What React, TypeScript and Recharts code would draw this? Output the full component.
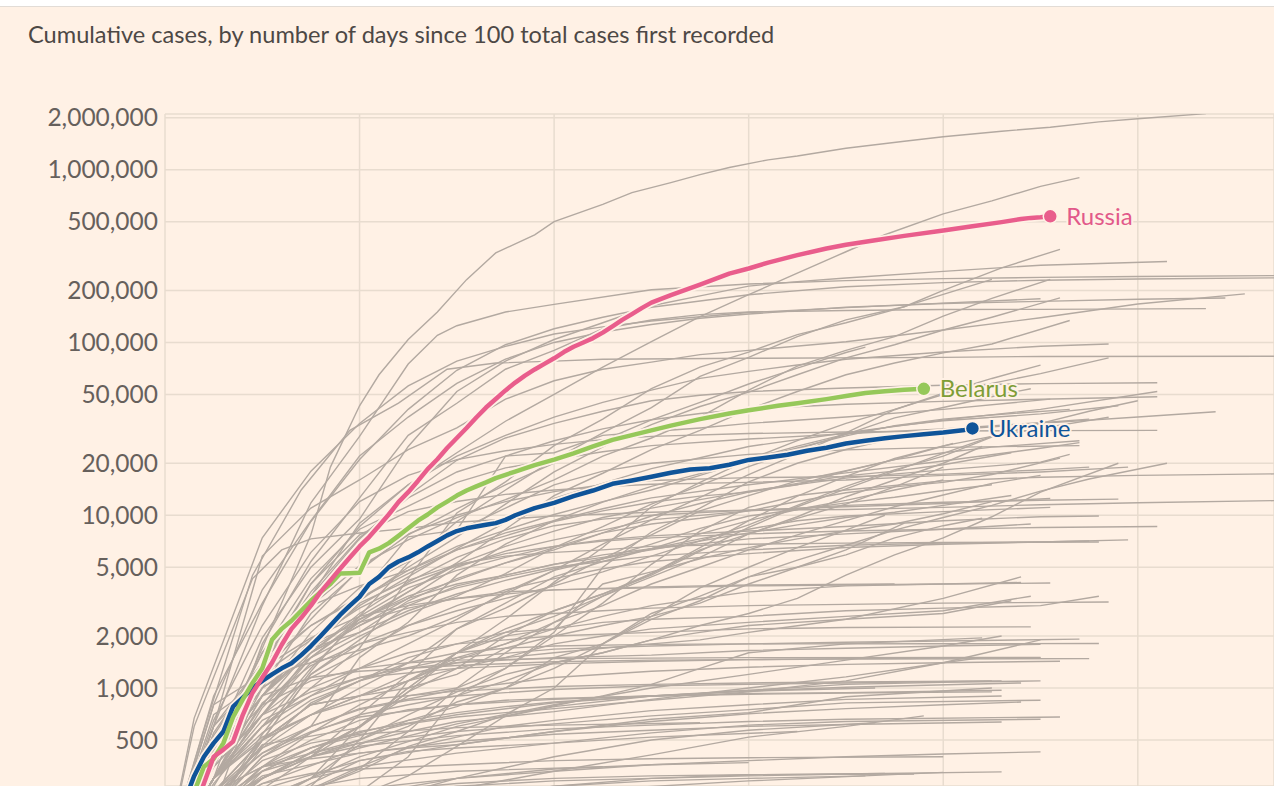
import { CartesianGrid, Line, LineChart, XAxis, YAxis } from "recharts";

type Pt = [number, number];

const BG = "#fff1e5";
const GREY = "#b3a9a1";

const dayTicks = [20, 40, 60, 80, 100];
const caseTicks = [500, 1000, 2000, 5000, 10000, 20000, 50000, 100000, 200000, 500000, 1000000, 2000000];

// highlighted countries (cumulative cases by day since the 100th case)
const russia: Pt[] = [
  [0, 100], [2, 150], [3, 200], [4, 280], [5, 400], [6, 440], [7, 490], [8, 700], [9, 940], [10, 1150],
  [11, 1400], [12, 1780], [13, 2200], [14, 2550], [15, 3000], [16, 3600], [17, 4200], [18, 4900], [19, 5700],
  [20, 6600], [21, 7500], [22, 8700], [23, 10100], [24, 11900], [25, 13600], [26, 15800], [27, 18500],
  [28, 21100], [29, 24500], [30, 28000], [31, 32000], [32, 36800], [33, 42000], [34, 47100], [35, 52800],
  [36, 58600], [37, 64300], [38, 69800], [39, 75200], [40, 81000], [41, 88000], [42, 94500], [43, 100000],
  [44, 106000], [45, 114000], [46, 124000], [47, 135000], [48, 146000], [49, 158000], [50, 170000],
  [52, 188000], [55, 216000], [58, 250000], [60, 268000], [62, 290000], [65, 320000], [68, 350000],
  [70, 368000], [73, 390000], [76, 414000], [80, 445000], [83, 470000], [86, 497000], [88, 518000],
  [89, 526000], [90, 530000], [91, 537000],
];

const belarus: Pt[] = [
  [0, 100], [1, 140], [2, 180], [3, 250], [4, 350], [5, 390], [6, 480], [7, 680], [8, 860], [9, 1070],
  [10, 1300], [11, 1900], [12, 2200], [13, 2450], [14, 2800], [15, 3200], [16, 3600], [17, 4000], [18, 4600],
  [19, 4620], [20, 4640], [21, 6100], [22, 6400], [23, 6900], [24, 7600], [25, 8400], [26, 9300], [27, 10100],
  [28, 11100], [29, 12000], [30, 13000], [31, 13900], [32, 14700], [33, 15500], [34, 16400], [36, 17900],
  [38, 19500], [40, 21000], [42, 22800], [44, 25000], [46, 27300], [48, 29100], [50, 31000], [52, 33000],
  [55, 36000], [58, 38800], [60, 40500], [63, 43000], [65, 44500], [68, 47000], [70, 49000], [72, 51000],
  [74, 52200], [76, 53300], [78, 53900],
];

const ukraine: Pt[] = [
  [0, 100], [1, 140], [2, 220], [3, 310], [4, 400], [5, 480], [6, 560], [7, 780], [8, 880], [9, 1000],
  [10, 1100], [11, 1200], [12, 1300], [13, 1390], [14, 1550], [15, 1750], [16, 2000], [17, 2300], [18, 2650],
  [19, 3000], [20, 3370], [21, 4000], [22, 4400], [23, 5000], [24, 5400], [25, 5700], [26, 6100], [27, 6600],
  [28, 7100], [29, 7650], [30, 8100], [31, 8400], [32, 8600], [33, 8800], [34, 9000], [35, 9400], [36, 10000],
  [38, 11000], [40, 11800], [42, 12900], [44, 13900], [46, 15200], [48, 15900], [50, 16700], [52, 17600],
  [54, 18400], [56, 18700], [58, 19600], [60, 20900], [62, 21600], [64, 22400], [66, 23600], [68, 24600],
  [70, 26000], [72, 27000], [74, 27900], [76, 28700], [78, 29400], [80, 30100], [82, 31000], [83, 31800],
];

// everyone else, drawn in grey
const usa: Pt[] = [[0, 100], [5, 400], [10, 1700], [15, 7700], [17, 19000], [20, 43000], [22, 65000], [25, 104000], [28, 150000], [31, 231000], [34, 330000], [38, 420000], [40, 500000], [45, 630000], [48, 736000], [52, 841000], [55, 936000], [58, 1030000], [62, 1140000], [65, 1200000], [70, 1330000], [76, 1460000], [80, 1550000], [86, 1670000], [91, 1760000], [96, 1890000], [100, 1970000], [107, 2110000]];
const brazil: Pt[] = [[0, 100], [5, 350], [10, 1200], [15, 3400], [20, 9000], [25, 15000], [30, 23000], [35, 35000], [40, 50000], [45, 72000], [50, 101000], [55, 141000], [60, 189000], [65, 252000], [70, 335000], [74, 420000], [80, 555000], [85, 660000], [90, 800000], [94, 900000]];
const india: Pt[] = [[0, 100], [5, 200], [10, 540], [15, 1250], [20, 2600], [25, 5300], [30, 9200], [35, 14000], [40, 21000], [45, 30000], [50, 42000], [55, 63600], [60, 82000], [65, 108000], [70, 135000], [76, 161000], [80, 200000], [86, 270000], [92, 346000]];
const uk: Pt[] = [[0, 100], [5, 460], [10, 1950], [15, 5000], [20, 9500], [25, 25000], [30, 52000], [35, 78000], [40, 104000], [45, 130000], [50, 163000], [55, 186000], [60, 212000], [65, 225000], [70, 236000], [80, 258000], [90, 280000], [103, 294000]];
const spain: Pt[] = [[0, 100], [5, 600], [10, 3000], [15, 11800], [20, 28600], [25, 75000], [28, 110000], [30, 125000], [35, 150000], [40, 166000], [50, 202000], [60, 218000], [70, 228000], [80, 234000], [90, 238000], [100, 241000], [116, 244000]];
const italy: Pt[] = [[0, 100], [5, 900], [10, 3100], [15, 9200], [20, 21000], [25, 41000], [30, 69000], [35, 97000], [40, 120000], [45, 140000], [50, 160000], [60, 189000], [70, 210000], [80, 222000], [90, 229000], [100, 233000], [116, 237000]];
const germany: Pt[] = [[0, 100], [5, 800], [10, 3700], [15, 9300], [20, 22000], [25, 37000], [30, 58000], [35, 80000], [40, 100000], [45, 115000], [50, 127000], [55, 138000], [60, 146000], [70, 160000], [80, 168000], [90, 173000], [100, 178000], [109, 181000]];
const iran: Pt[] = [[0, 100], [5, 600], [10, 5800], [15, 11000], [20, 16000], [25, 24000], [30, 32000], [35, 47000], [40, 60000], [45, 70000], [50, 77000], [55, 85000], [60, 90000], [70, 101000], [80, 118000], [90, 139000], [100, 167000], [111, 191000]];
const france: Pt[] = [[0, 100], [5, 300], [10, 1800], [15, 5400], [20, 12600], [25, 29000], [30, 44500], [35, 70000], [40, 90000], [45, 120000], [50, 135000], [55, 145000], [60, 150000], [70, 153000], [80, 155000], [90, 155500], [107, 157000]];
const turkey: Pt[] = [[0, 100], [3, 670], [6, 1870], [10, 7400], [15, 18000], [20, 34000], [25, 56000], [30, 78000], [35, 95000], [40, 112000], [45, 123000], [50, 133000], [60, 149000], [70, 159000], [80, 169000], [90, 179000]];
const peru: Pt[] = [[0, 100], [5, 300], [10, 600], [15, 1000], [20, 1700], [25, 4300], [30, 10300], [35, 15600], [40, 25300], [45, 36000], [50, 54000], [55, 72000], [60, 88000], [65, 111000], [70, 130000], [75, 155000], [80, 190000], [85, 232000]];
const chile: Pt[] = [[0, 100], [5, 430], [10, 1600], [15, 3000], [20, 5100], [25, 7200], [30, 9700], [35, 12300], [40, 16000], [45, 22000], [50, 28000], [55, 37000], [60, 53000], [65, 73000], [70, 90000], [75, 108000], [80, 142000], [85, 180000], [91, 232000]];
const mexico: Pt[] = [[0, 100], [5, 300], [10, 900], [15, 1900], [20, 3200], [25, 5000], [30, 7500], [35, 11600], [40, 17800], [45, 24900], [50, 33500], [55, 42600], [60, 51600], [65, 65000], [70, 81400], [75, 97000], [80, 118000], [85, 140000], [92, 181000]];
const saudi: Pt[] = [[0, 100], [5, 270], [10, 770], [15, 1500], [20, 2400], [25, 3600], [30, 5300], [35, 8300], [40, 13000], [45, 17500], [50, 24000], [55, 31000], [60, 41000], [65, 52000], [70, 65000], [75, 76000], [80, 87000], [85, 98000], [93, 134000]];
const canada: Pt[] = [[0, 100], [5, 400], [10, 1400], [15, 4000], [20, 8600], [25, 15000], [30, 22000], [35, 29000], [40, 37000], [45, 45000], [50, 53000], [55, 62000], [60, 68000], [65, 74000], [70, 80000], [80, 88000], [90, 95000], [97, 98000]];
const china: Pt[] = [[0, 100], [4, 570], [9, 4500], [14, 14000], [19, 31000], [24, 44600], [29, 70000], [34, 76000], [40, 78000], [45, 80000], [60, 81000], [80, 82000], [90, 83000], [116, 83200]];
const qatar: Pt[] = [[0, 100], [10, 470], [20, 590], [25, 950], [30, 1600], [35, 2500], [40, 4100], [45, 6500], [50, 11200], [55, 15500], [60, 21000], [65, 27000], [70, 34000], [75, 41000], [80, 50000], [85, 58000], [90, 66000], [97, 81500]];
const southAfrica: Pt[] = [[0, 100], [5, 400], [10, 1170], [15, 1400], [20, 1650], [25, 2000], [30, 2600], [35, 3500], [40, 4800], [45, 6800], [50, 9400], [55, 12700], [60, 17200], [65, 22600], [70, 30000], [75, 40800], [80, 50900], [85, 61900], [90, 74000]];
const bangladesh: Pt[] = [[0, 100], [5, 200], [10, 1200], [15, 2500], [20, 4900], [25, 7700], [30, 10900], [35, 15000], [40, 20000], [45, 27000], [50, 35600], [55, 45000], [60, 57500], [65, 71000], [70, 87500], [72, 94000]];
const belgium: Pt[] = [[0, 100], [5, 400], [10, 1250], [15, 3400], [20, 7300], [25, 13000], [30, 20800], [35, 28000], [40, 34000], [45, 40000], [50, 46000], [55, 49500], [60, 52000], [70, 54500], [80, 56500], [90, 57800], [102, 58500]];
const sweden: Pt[] = [[0, 100], [5, 700], [10, 1100], [15, 1800], [20, 3000], [25, 4400], [30, 6400], [35, 9100], [40, 12500], [45, 15300], [50, 18600], [55, 21500], [60, 25000], [70, 30000], [80, 35500], [90, 41000], [102, 52000]];
const netherlands: Pt[] = [[0, 100], [5, 600], [10, 1400], [15, 3600], [20, 7400], [25, 12600], [30, 17800], [35, 22000], [40, 27000], [45, 31600], [50, 35700], [55, 38800], [60, 41300], [70, 43900], [80, 45600], [90, 46900], [102, 48500]];
const switzerland: Pt[] = [[0, 100], [5, 650], [10, 2300], [15, 6100], [20, 12000], [25, 17000], [30, 21000], [35, 23600], [40, 25700], [45, 27400], [50, 28600], [60, 29700], [70, 30300], [80, 30700], [90, 30900], [102, 31000]];
const singapore: Pt[] = [[0, 100], [10, 180], [20, 250], [25, 400], [30, 900], [35, 1300], [40, 2100], [45, 5000], [50, 8000], [55, 11000], [60, 15600], [65, 20000], [70, 24000], [75, 28000], [80, 31000], [90, 34000], [100, 37000], [108, 39700]];
const japan: Pt[] = [[0, 100], [10, 300], [20, 600], [25, 900], [30, 1000], [35, 1300], [40, 2000], [45, 3100], [50, 5200], [55, 8100], [60, 11100], [65, 13000], [70, 14000], [80, 15800], [90, 16600], [100, 17000], [116, 17400]];
const korea: Pt[] = [[0, 100], [3, 600], [6, 1600], [9, 4300], [12, 6300], [15, 7300], [20, 7900], [25, 8400], [30, 9100], [40, 9900], [50, 10400], [60, 10700], [70, 10800], [80, 11100], [90, 11500], [100, 11800], [116, 12200]];
const austria: Pt[] = [[0, 100], [5, 500], [10, 1300], [15, 4000], [20, 7700], [25, 10500], [30, 12000], [35, 13200], [40, 14000], [45, 14600], [50, 15100], [60, 15500], [70, 16000], [80, 17000], [90, 17800], [99, 19000]];
const portugal: Pt[] = [[0, 100], [5, 450], [10, 1600], [15, 4300], [20, 8300], [25, 11300], [30, 15500], [35, 18800], [40, 21000], [45, 23300], [50, 25300], [60, 27600], [70, 29600], [80, 31600], [90, 34300], [95, 36000]];
const israel: Pt[] = [[0, 100], [5, 300], [10, 1000], [15, 2700], [20, 4800], [25, 7800], [30, 10000], [35, 12000], [40, 13700], [45, 15000], [50, 15900], [60, 16500], [70, 16700], [80, 17300], [90, 18300], [95, 19000]];
const ireland: Pt[] = [[0, 100], [5, 400], [10, 900], [15, 2100], [20, 3800], [25, 5400], [30, 8100], [35, 11000], [40, 15000], [45, 18000], [50, 20000], [60, 22500], [70, 23900], [80, 24700], [94, 25300]];
const poland: Pt[] = [[0, 100], [5, 400], [10, 900], [15, 1900], [20, 3300], [25, 4600], [30, 6300], [35, 7900], [40, 9300], [45, 10900], [50, 12600], [60, 15000], [70, 17600], [80, 20600], [90, 24400], [94, 26300]];
const romania: Pt[] = [[0, 100], [5, 300], [10, 600], [15, 1300], [20, 2500], [25, 3600], [30, 5200], [35, 6600], [40, 8100], [45, 9700], [50, 11000], [60, 13800], [70, 16400], [80, 18300], [90, 20300], [93, 22500]];
const denmark: Pt[] = [[0, 100], [5, 800], [10, 1200], [15, 1600], [20, 2300], [25, 3300], [30, 5000], [35, 6200], [40, 7200], [45, 8200], [50, 9400], [60, 10600], [70, 11400], [80, 11900], [90, 12200], [98, 12400]];
const czechia: Pt[] = [[0, 100], [5, 300], [10, 700], [15, 1600], [20, 2600], [25, 3800], [30, 4800], [35, 5700], [40, 6600], [45, 7200], [50, 7600], [60, 8100], [70, 8600], [80, 9300], [90, 9800], [96, 9900]];
const norway: Pt[] = [[0, 100], [5, 600], [10, 1200], [15, 1900], [20, 2900], [25, 4000], [30, 5100], [35, 6000], [40, 6600], [45, 7100], [50, 7400], [60, 7800], [70, 8100], [80, 8300], [90, 8500], [102, 8600]];
const malaysia: Pt[] = [[0, 100], [5, 400], [10, 1000], [15, 1600], [20, 2300], [25, 3100], [30, 3800], [35, 4400], [40, 5000], [45, 5400], [50, 5800], [60, 6300], [70, 6700], [80, 6900], [90, 7000], [99, 7200]];
const australia: Pt[] = [[0, 100], [5, 300], [10, 800], [15, 1700], [20, 3100], [25, 4200], [30, 5200], [35, 5800], [40, 6100], [45, 6300], [50, 6600], [60, 6800], [70, 6900], [80, 6950], [96, 7000]];
const ecuador: Pt[] = [[0, 100], [5, 530], [10, 1400], [15, 2300], [20, 3400], [25, 7500], [30, 8200], [35, 22000], [40, 23000], [45, 29000], [50, 30500], [55, 32000], [60, 34000], [70, 37000], [80, 41000], [91, 47000]];
const colombia: Pt[] = [[0, 100], [5, 300], [10, 700], [15, 1400], [20, 2000], [25, 2700], [30, 3400], [35, 4600], [40, 6500], [45, 8600], [50, 11600], [55, 14900], [60, 19100], [65, 24100], [70, 29400], [75, 36600], [80, 42000], [86, 50000], [89, 54000]];
const indonesia: Pt[] = [[0, 100], [5, 450], [10, 1300], [15, 2300], [20, 3300], [25, 4800], [30, 6600], [35, 8200], [40, 10100], [45, 12000], [50, 14000], [55, 17000], [60, 20800], [65, 24500], [70, 28800], [75, 33000], [80, 36000], [85, 38000], [93, 41000]];
const philippines: Pt[] = [[0, 100], [5, 550], [10, 1400], [15, 3000], [20, 3900], [25, 4800], [30, 6300], [35, 7600], [40, 9200], [45, 10600], [50, 11900], [55, 12900], [60, 13600], [65, 15000], [70, 18000], [75, 21000], [80, 23000], [85, 24800], [94, 27000]];
const uae: Pt[] = [[0, 100], [10, 400], [15, 600], [20, 1500], [25, 2400], [30, 4500], [35, 6800], [40, 9300], [45, 11900], [50, 14700], [55, 17400], [60, 21000], [65, 25100], [70, 29500], [75, 32800], [80, 35200], [90, 38600], [98, 43000]];
const kuwait: Pt[] = [[0, 100], [10, 190], [20, 340], [25, 560], [30, 1000], [35, 1600], [40, 2400], [45, 3400], [50, 4600], [55, 6500], [60, 9300], [65, 12900], [70, 16800], [75, 21300], [80, 25200], [85, 28600], [90, 31800], [97, 36900]];
const egypt: Pt[] = [[0, 100], [10, 300], [20, 600], [25, 1000], [30, 1600], [35, 2200], [40, 2800], [45, 3500], [50, 4500], [55, 6200], [60, 8500], [65, 11200], [70, 14200], [75, 18000], [80, 22800], [85, 28600], [90, 34000], [95, 40000], [100, 46000]];
const argentina: Pt[] = [[0, 100], [5, 300], [10, 820], [15, 1350], [20, 1800], [25, 2300], [30, 2800], [35, 3300], [40, 3900], [45, 4700], [50, 5800], [55, 7100], [60, 8800], [65, 11400], [70, 14700], [75, 18300], [80, 22000], [88, 33000]];
const algeria: Pt[] = [[0, 100], [5, 300], [10, 700], [15, 1500], [20, 2100], [25, 2800], [30, 3500], [35, 4200], [40, 4900], [45, 5600], [50, 6400], [55, 7300], [60, 8300], [65, 9300], [70, 9900], [80, 10500], [91, 11100]];
const morocco: Pt[] = [[0, 100], [5, 200], [10, 500], [15, 1200], [20, 1900], [25, 3000], [30, 3900], [35, 4500], [40, 5200], [45, 5900], [50, 6400], [60, 7300], [70, 7800], [80, 8300], [89, 8900]];
const nigeria: Pt[] = [[0, 100], [5, 200], [10, 300], [15, 400], [20, 700], [25, 1200], [30, 2200], [35, 3100], [40, 4400], [45, 5400], [50, 6400], [55, 7800], [60, 9300], [65, 10800], [70, 12200], [75, 14000], [80, 16000]];
const afghanistan: Pt[] = [[0, 100], [5, 300], [10, 500], [15, 700], [20, 1000], [25, 1400], [30, 2200], [35, 2900], [40, 4000], [45, 5600], [50, 7700], [55, 10600], [60, 13000], [65, 15800], [70, 18100], [75, 21000], [81, 26000]];
const kazakhstan: Pt[] = [[0, 100], [5, 280], [10, 600], [15, 900], [20, 1300], [25, 1800], [30, 2500], [35, 3600], [40, 4800], [45, 5600], [50, 6800], [55, 8400], [60, 9900], [65, 10800], [70, 11800], [75, 12700], [80, 13900], [85, 15000]];
const armenia: Pt[] = [[0, 100], [5, 250], [10, 500], [15, 800], [20, 900], [25, 1100], [30, 1500], [35, 1800], [40, 2400], [45, 3000], [50, 4000], [55, 5000], [60, 6300], [65, 7700], [70, 9300], [75, 11200], [80, 13100], [85, 15300], [90, 17000]];
const moldova: Pt[] = [[0, 100], [5, 300], [10, 900], [15, 1700], [20, 2500], [25, 3300], [30, 4000], [35, 4500], [40, 5200], [45, 5700], [50, 6300], [55, 7100], [60, 7900], [65, 8800], [70, 9700], [75, 10400], [80, 11400], [87, 13000]];
const serbia: Pt[] = [[0, 100], [5, 400], [10, 900], [15, 1600], [20, 2700], [25, 4100], [30, 5700], [35, 7300], [40, 8700], [45, 9500], [50, 10000], [60, 10700], [70, 11200], [80, 11700], [91, 12500]];
const dominican: Pt[] = [[0, 100], [5, 400], [10, 900], [15, 1700], [20, 2100], [25, 3200], [30, 4300], [35, 5300], [40, 6300], [45, 7900], [50, 9900], [55, 11700], [60, 13600], [65, 15300], [70, 16900], [75, 18000], [80, 19600], [87, 23000]];
const panama: Pt[] = [[0, 100], [5, 400], [10, 1000], [15, 1500], [20, 2500], [25, 3400], [30, 4200], [35, 5300], [40, 6500], [45, 7900], [50, 8900], [55, 9600], [60, 10600], [65, 12000], [70, 13500], [75, 14600], [80, 15500], [85, 17200], [92, 21400]];
const bolivia: Pt[] = [[0, 100], [5, 160], [10, 260], [15, 400], [20, 600], [25, 950], [30, 1300], [35, 2000], [40, 2800], [45, 3500], [50, 4600], [55, 6300], [60, 7800], [65, 9600], [70, 11600], [75, 14600], [80, 19000]];
const honduras: Pt[] = [[0, 100], [5, 220], [10, 300], [15, 420], [20, 500], [25, 650], [30, 780], [35, 1000], [40, 1500], [45, 1800], [50, 2500], [55, 3200], [60, 4400], [65, 5000], [70, 6300], [76, 9000]];
const guatemala: Pt[] = [[0, 100], [5, 150], [10, 230], [15, 300], [20, 470], [25, 600], [30, 830], [35, 1000], [40, 1300], [45, 1800], [50, 2600], [55, 3800], [60, 5000], [65, 6500], [70, 8200], [74, 10000]];
const oman: Pt[] = [[0, 100], [5, 180], [10, 300], [15, 400], [20, 500], [25, 1100], [30, 1600], [35, 2100], [40, 2600], [45, 3400], [50, 4400], [55, 5700], [60, 7800], [65, 9800], [70, 12800], [75, 16000], [80, 20000], [84, 25000]];
const bahrain: Pt[] = [[0, 100], [10, 200], [20, 330], [25, 460], [30, 560], [35, 700], [40, 1000], [45, 1800], [50, 2700], [55, 3400], [60, 4400], [65, 5500], [70, 6700], [75, 8200], [80, 9700], [85, 11400], [90, 13800], [95, 16200], [103, 20000]];
const iraq: Pt[] = [[0, 100], [5, 140], [10, 200], [15, 270], [20, 500], [25, 700], [30, 950], [35, 1200], [40, 1400], [45, 1600], [50, 1900], [55, 2300], [60, 2700], [65, 3300], [70, 4500], [75, 5900], [80, 7400], [85, 9800], [90, 13600], [98, 20000]];
const ghana: Pt[] = [[0, 100], [5, 150], [10, 210], [15, 300], [20, 600], [25, 1000], [30, 1600], [35, 2000], [40, 2200], [45, 4000], [50, 4700], [55, 5600], [60, 6500], [65, 7300], [70, 8100], [75, 8900], [80, 10200], [85, 12000]];
const cameroon: Pt[] = [[0, 100], [5, 200], [10, 500], [15, 800], [20, 900], [25, 1000], [30, 1200], [35, 1700], [40, 2000], [45, 2300], [50, 2600], [55, 3100], [60, 4000], [65, 5000], [70, 5900], [75, 7400], [80, 8700], [84, 9600]];

// smaller outbreaks, mostly levelling off below a few thousand cases
const smallerCountries: Pt[][] = [
  [[0, 100], [5, 200], [10, 500], [15, 1200], [20, 1800], [25, 2100], [30, 2400], [35, 2600], [40, 2700], [45, 2800], [50, 2900], [60, 3000], [70, 3050], [80, 3100], [97, 3150]],
  [[0, 100], [5, 200], [10, 350], [15, 550], [20, 800], [25, 1100], [30, 1450], [35, 1800], [40, 2200], [45, 2600], [50, 3000], [55, 3300], [60, 3600], [70, 3900], [80, 4000], [88, 4080]],
  [[0, 100], [5, 300], [10, 600], [15, 1000], [20, 1300], [25, 1600], [30, 1800], [35, 1900], [40, 2000], [50, 2100], [60, 2200], [70, 2240], [89, 2260]],
  [[0, 100], [5, 200], [10, 400], [15, 550], [20, 700], [25, 800], [30, 900], [35, 1100], [40, 1400], [45, 1600], [50, 1900], [55, 2100], [60, 2300], [70, 2500], [80, 2700], [87, 3200]],
  [[0, 100], [5, 250], [10, 500], [15, 700], [20, 900], [25, 1100], [30, 1300], [35, 1500], [40, 1800], [45, 2000], [50, 2200], [60, 2400], [70, 2600], [80, 2800], [89, 3400]],
  [[0, 100], [5, 250], [10, 450], [15, 700], [20, 900], [25, 1200], [30, 1400], [35, 1500], [40, 1600], [45, 1700], [50, 1800], [55, 1900], [60, 2100], [70, 2500], [80, 3300], [88, 4400]],
  [[0, 100], [5, 450], [10, 1300], [15, 1950], [20, 2600], [25, 3000], [30, 3300], [35, 3600], [40, 3700], [50, 3800], [60, 3900], [70, 3950], [80, 4000], [91, 4050]],
  [[0, 100], [5, 350], [10, 700], [15, 1150], [20, 1600], [25, 2300], [30, 3000], [35, 3700], [40, 4300], [45, 4900], [50, 5400], [60, 6000], [70, 6500], [80, 6800], [90, 7000], [95, 7100]],
  [[0, 100], [5, 230], [10, 460], [15, 820], [20, 1100], [25, 1500], [30, 1800], [35, 2100], [40, 2200], [45, 2400], [50, 2500], [60, 2600], [70, 2800], [80, 2900], [90, 3000], [96, 3400]],
  [[0, 100], [5, 250], [10, 500], [15, 800], [20, 1100], [25, 1400], [30, 1600], [35, 1700], [40, 1750], [50, 1790], [60, 1800], [80, 1805], [96, 1810]],
  [[0, 100], [5, 450], [10, 1100], [15, 1800], [20, 2400], [25, 2900], [30, 3300], [40, 3700], [50, 3850], [60, 3950], [75, 4000]],
  [[0, 100], [5, 300], [10, 650], [15, 900], [20, 1150], [30, 1500], [40, 1680], [50, 1750], [60, 1800], [70, 1840], [80, 1870], [94, 1920]],
  [[0, 100], [5, 400], [10, 900], [15, 1150], [20, 1250], [30, 1350], [40, 1420], [50, 1450], [60, 1460], [70, 1470], [95, 1480]],
  [[0, 100], [5, 240], [10, 420], [15, 600], [20, 760], [30, 980], [40, 1150], [50, 1250], [60, 1320], [70, 1370], [80, 1400], [92, 1430]],
  [[0, 100], [5, 350], [10, 700], [15, 950], [20, 1150], [30, 1300], [40, 1380], [50, 1430], [60, 1460], [70, 1480], [90, 1500]],
  [[0, 100], [5, 200], [10, 330], [15, 450], [20, 560], [30, 700], [40, 820], [50, 900], [60, 960], [70, 1010], [88, 1070]],
  [[0, 100], [5, 300], [10, 520], [15, 700], [20, 850], [30, 960], [40, 1020], [50, 1050], [60, 1070], [70, 1085], [86, 1100]],
  [[0, 100], [5, 170], [10, 260], [20, 380], [30, 470], [40, 560], [50, 640], [60, 710], [70, 760], [80, 800], [88, 830]],
  [[0, 100], [5, 250], [10, 420], [15, 560], [20, 680], [30, 800], [40, 860], [50, 900], [60, 920], [70, 935], [85, 950]],
  [[0, 100], [5, 220], [10, 330], [15, 400], [20, 460], [30, 530], [40, 580], [50, 610], [60, 640], [70, 660], [92, 680]],
  [[0, 100], [5, 200], [10, 310], [20, 420], [30, 490], [40, 540], [50, 570], [60, 600], [70, 615], [86, 636]],
  [[0, 100], [10, 190], [20, 260], [30, 300], [40, 330], [50, 360], [60, 380], [70, 400], [80, 415], [90, 427]],
  [[0, 100], [10, 170], [20, 230], [30, 270], [40, 290], [50, 300], [60, 310], [70, 318], [86, 327]],
  [[0, 100], [5, 160], [10, 220], [15, 300], [20, 400], [30, 600], [40, 780], [50, 900], [60, 960], [73, 1000]],
  [[0, 100], [10, 150], [20, 210], [30, 300], [40, 400], [50, 500], [60, 570], [73, 630]],
  [[0, 100], [10, 130], [20, 180], [30, 230], [40, 270], [50, 300], [60, 315], [74, 320]],
  [[0, 100], [5, 150], [10, 200], [20, 250], [30, 280], [40, 300], [50, 310], [60, 315], [77, 318]],
  [[0, 100], [10, 140], [20, 190], [30, 220], [40, 250], [60, 290], [80, 325]],
  [[0, 100], [5, 300], [10, 550], [15, 850], [20, 1100], [25, 1300], [30, 1400], [35, 1450], [40, 1500], [50, 1550], [60, 1650], [70, 1700], [80, 1750], [90, 1790]],
  [[0, 100], [5, 200], [10, 350], [15, 450], [20, 550], [25, 650], [30, 720], [35, 780], [40, 830], [50, 900], [60, 970], [70, 1050], [80, 1080], [90, 1100]],
  [[0, 100], [5, 180], [10, 350], [15, 500], [20, 650], [25, 750], [30, 800], [35, 850], [40, 870], [50, 900], [60, 930], [70, 940], [86, 970]],
  [[0, 100], [5, 200], [10, 450], [15, 600], [20, 750], [25, 850], [30, 900], [35, 940], [40, 980], [50, 1030], [60, 1050], [70, 1070], [85, 1100]],
  [[0, 100], [5, 250], [10, 350], [15, 420], [20, 480], [25, 520], [30, 560], [40, 620], [50, 690], [60, 750], [70, 820], [90, 850]],
  [[0, 100], [5, 400], [10, 800], [15, 1100], [20, 1300], [25, 1400], [30, 1450], [40, 1480], [50, 1490], [60, 1500], [90, 1504]],
  [[0, 100], [5, 170], [10, 330], [15, 450], [20, 530], [25, 620], [30, 680], [35, 720], [40, 760], [50, 850], [60, 950], [70, 1100], [80, 1400], [90, 1900]],
  [[0, 100], [5, 130], [10, 180], [15, 260], [20, 350], [25, 450], [30, 520], [35, 600], [40, 650], [50, 740], [60, 800], [70, 860], [86, 900]],
  [[0, 100], [5, 250], [10, 350], [15, 390], [20, 420], [25, 450], [30, 470], [40, 560], [50, 660], [60, 720], [70, 890], [85, 1000]],
  [[0, 100], [5, 120], [10, 150], [15, 190], [20, 240], [25, 310], [30, 460], [35, 690], [40, 790], [45, 900], [50, 1050], [55, 1300], [60, 1600], [70, 1800], [84, 1950]],
  [[0, 100], [5, 200], [10, 300], [15, 400], [20, 480], [25, 560], [30, 640], [40, 730], [50, 860], [60, 1000], [70, 1160], [80, 1400], [84, 1500]],
  [[0, 100], [5, 150], [10, 200], [15, 280], [20, 380], [25, 430], [30, 450], [40, 480], [50, 550], [60, 610], [70, 640], [90, 660]],
  [[0, 100], [5, 200], [10, 280], [15, 320], [20, 340], [30, 360], [40, 380], [50, 390], [60, 395], [80, 400]],
  [[0, 100], [5, 130], [10, 160], [15, 190], [20, 210], [30, 240], [40, 270], [50, 290], [60, 300], [72, 310]],
  [[0, 100], [5, 160], [10, 230], [15, 300], [20, 350], [30, 420], [40, 480], [50, 520], [65, 560]],
  [[0, 100], [10, 150], [20, 200], [30, 260], [40, 330], [50, 410], [60, 520], [70, 600], [78, 690]],
  [[0, 100], [5, 190], [10, 280], [20, 450], [30, 620], [40, 800], [50, 1000], [60, 1200], [70, 1450], [80, 1750], [86, 2000]],
  [[0, 100], [5, 140], [10, 180], [20, 240], [30, 300], [40, 340], [50, 360], [60, 370]],
  [[0, 100], [5, 220], [10, 380], [15, 480], [20, 540], [30, 590], [40, 610], [55, 630]],
  [[0, 100], [5, 170], [10, 240], [20, 300], [30, 330], [45, 350]],
];

const greyLines: Pt[][] = [
  usa, brazil, india, uk, spain, italy, germany, iran, france, turkey, peru, chile, mexico, saudi, canada,
  china, qatar, southAfrica, bangladesh, belgium, sweden, netherlands, switzerland, singapore, japan, korea,
  austria, portugal, israel, ireland, poland, romania, denmark, czechia, norway, malaysia, australia, ecuador,
  colombia, indonesia, philippines, uae, kuwait, egypt, argentina, algeria, morocco, nigeria, afghanistan,
  kazakhstan, armenia, moldova, serbia, dominican, panama, bolivia, honduras, guatemala, oman, bahrain, iraq,
  ghana, cameroon, ...smallerCountries,
];

const highlights = [
  { name: "Ukraine", points: ukraine, line: "#0f5499", label: "#0f5499" },
  { name: "Belarus", points: belarus, line: "#96c85a", label: "#7e9d36" },
  { name: "Russia", points: russia, line: "#e95d8c", label: "#e2598a" },
];

const toRows = (pts: Pt[]) => pts.map(([day, cases]) => ({ day, cases }));

function endMarker(last: number, color: string, labelColor: string, name: string) {
  return (props: any) => {
    const { cx, cy, index } = props;
    if (index !== last || cx == null) return <g key={`p${index}`} />;
    return (
      <g key={`end-${name}`}>
        <circle cx={cx} cy={cy} r={7} fill={color} stroke={BG} strokeWidth={1.5} />
        <text
          x={cx + 16}
          y={cy}
          dy="0.36em"
          fill={labelColor}
          fontSize={24}
          fontFamily="Lato, sans-serif"
          stroke={BG}
          strokeWidth={4}
          strokeLinejoin="round"
          paintOrder="stroke"
        >
          {name}
        </text>
      </g>
    );
  };
}

export default function App() {
  return (
    <div
      style={{
        position: "absolute",
        left: 0,
        top: 0,
        width: 1274,
        height: 786,
        overflow: "hidden",
        background: BG,
        fontFamily: "Lato, sans-serif",
      }}
    >
      <div style={{ position: "absolute", left: 0, top: 0, width: 1274, height: 6, background: "#fff", borderBottom: "1px solid #e2dcd6" }} />
      <div
        style={{
          position: "absolute",
          left: 28,
          top: 20,
          fontSize: 23.6,
          lineHeight: "28px",
          color: "#4d4845",
          whiteSpace: "nowrap",
        }}
      >
        Cumulative cases, by number of days since 100 total cases first recorded
      </div>
      <LineChart width={1274} height={786} margin={{ top: 114, right: 0, bottom: 0, left: 0 }}>
        <CartesianGrid stroke="#e8dccf" strokeWidth={1.5} />
        <XAxis
          type="number"
          dataKey="day"
          domain={[0, 114]}
          ticks={dayTicks}
          allowDataOverflow
          hide
        />
        <YAxis
          type="number"
          scale="log"
          domain={[271, 2100000]}
          ticks={caseTicks}
          interval={0}
          allowDataOverflow
          width={165}
          axisLine={false}
          tickLine={false}
          tickSize={0}
          tickMargin={7}
          tick={{ fill: "#66605c", fontSize: 24.5, fontFamily: "Lato, sans-serif" }}
          tickFormatter={(v: number) => v.toLocaleString("en-US")}
        />
        {greyLines.map((pts, i) => (
          <Line
            key={`g${i}`}
            data={toRows(pts)}
            dataKey="cases"
            type="linear"
            stroke={GREY}
            strokeWidth={1.4}
            dot={false}
            activeDot={false}
            isAnimationActive={false}
          />
        ))}
        {highlights.map((h) => (
          <Line
            key={`${h.name}-halo`}
            data={toRows(h.points)}
            dataKey="cases"
            type="linear"
            stroke={BG}
            strokeWidth={8}
            strokeLinejoin="round"
            dot={false}
            activeDot={false}
            isAnimationActive={false}
          />
        ))}
        {highlights.map((h) => (
          <Line
            key={h.name}
            data={toRows(h.points)}
            dataKey="cases"
            type="linear"
            stroke={h.line}
            strokeWidth={4.5}
            strokeLinejoin="round"
            dot={endMarker(h.points.length - 1, h.line, h.label, h.name)}
            activeDot={false}
            isAnimationActive={false}
          />
        ))}
      </LineChart>
    </div>
  );
}
